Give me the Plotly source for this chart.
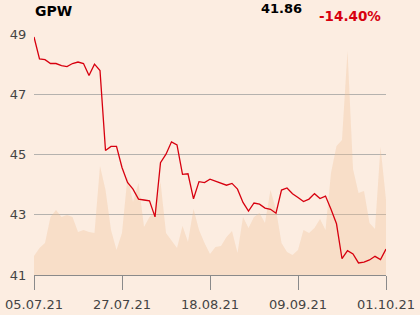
import plotly.graph_objects as go

# Trading-day index (65 sessions 05.07.21 .. 01.10.21)
tick_idx = [0, 16, 32, 48, 64]
tick_labels = ["05.07.21", "27.07.21", "18.08.21", "09.09.21", "01.10.21"]

price = [48.90, 48.17, 48.15, 48.02, 48.02, 47.95, 47.92, 48.02, 48.07, 48.02,
         47.62, 48.00, 47.79, 45.13, 45.27, 45.27, 44.57, 44.07, 43.85, 43.52,
         43.49, 43.46, 42.93, 44.73, 45.01, 45.42, 45.32, 44.34, 44.36, 43.53,
         44.10, 44.07, 44.18, 44.12, 44.05, 43.98, 44.04, 43.85, 43.41, 43.12,
         43.39, 43.35, 43.22, 43.18, 43.05, 43.82, 43.89, 43.70, 43.57, 43.44,
         43.52, 43.70, 43.54, 43.62, 43.18, 42.70, 41.54, 41.81, 41.70, 41.40,
         41.43, 41.50, 41.62, 41.51, 41.86]

volume = [19, 27, 32, 58, 65, 58, 60, 58, 43, 45,
          43, 42, 109, 85, 45, 25, 42, 98, 73, 92,
          48, 58, 63, 93, 42, 35, 27, 49, 33, 66,
          45, 32, 21, 28, 29, 38, 44, 22, 58, 47,
          58, 62, 52, 85, 65, 32, 23, 20, 25, 45,
          42, 47, 56, 45, 102, 129, 135, 224, 106, 82,
          84, 52, 46, 128, 75]

x = list(range(len(price)))

title_text = "GPW"
last_text = "41.86"
change_text = "-14.40%"

BG = "#fcede1"
RED = "#d7000f"
GRID = "#b5b2ae"
FONT = "DejaVu Sans"

fig = go.Figure()
fig.add_trace(go.Scatter(
    x=x, y=volume, yaxis="y", mode="lines", line=dict(width=0),
    fill="tozeroy", fillcolor="rgba(240,190,150,0.33)", hoverinfo="skip",
))
fig.add_trace(go.Scatter(
    x=x, y=price, yaxis="y2", mode="lines",
    line=dict(color=RED, width=1.3),
))

fig.update_layout(
    width=420, height=315,
    margin=dict(l=34, r=34, t=34, b=40),
    paper_bgcolor=BG, plot_bgcolor=BG,
    showlegend=False,
    font=dict(family=FONT, size=13, color="#444444"),
    xaxis=dict(
        range=[0, 64], tickvals=tick_idx, ticktext=tick_labels,
        ticks="outside", ticklen=14, tickcolor="#8a8a8a", tickwidth=1,
        showline=True, linecolor="#8a8a8a", linewidth=1,
        showgrid=False, zeroline=False, automargin=False,
        ticklabelstandoff=3,
        tickfont=dict(family=FONT, size=13, color="#444444"),
    ),
    yaxis=dict(range=[0, 241], visible=False, showgrid=False, zeroline=False,
               automargin=False),
    yaxis2=dict(
        range=[41, 49], tickvals=[41, 43, 45, 47, 49], overlaying="y", side="left",
        showgrid=True, gridcolor=GRID, gridwidth=1, zeroline=False,
        ticks="outside", ticklen=4, tickcolor="rgba(0,0,0,0)",
        tickfont=dict(family=FONT, size=13, color="#444444"),
        showline=False, automargin=False,
    ),
    annotations=[
        dict(text="<b>" + title_text + "</b>", xref="paper", yref="paper",
             x=-0.003, y=1.0975, xanchor="left", yanchor="middle", showarrow=False,
             font=dict(family=FONT, size=14, color="#000000")),
        dict(text="<b>" + last_text + "</b>", xref="paper", yref="paper",
             x=0.703, y=1.105, xanchor="center", yanchor="middle", showarrow=False,
             font=dict(family=FONT, size=13, color="#000000")),
        dict(text="<b>" + change_text + "</b>", xref="paper", yref="paper",
             x=0.898, y=1.0734, xanchor="center", yanchor="middle", showarrow=False,
             font=dict(family=FONT, size=13.5, color=RED)),
    ],
)

fig.write_html("out.html")
